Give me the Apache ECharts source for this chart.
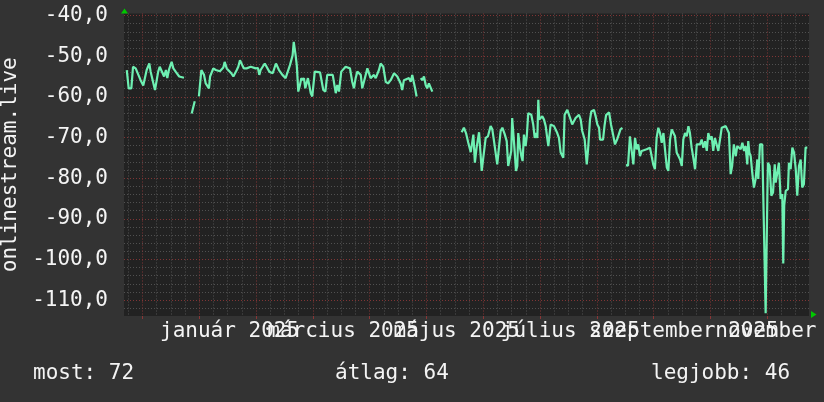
<!DOCTYPE html>
<html><head><meta charset="utf-8">
<script src="https://cdn.jsdelivr.net/npm/echarts@6/dist/echarts.min.js"></script>
<style>html,body{margin:0;padding:0;background:#333333;}#c{width:824px;height:402px;}</style>
</head><body><div id="c"></div>
<script>
// ---- data (x = day offset from first major grid line, y = signal value) ----
const seriesName = 'onlinestream.live';
const monthLabels = ['január 2025', 'március 2025', 'május 2025', 'július 2025', 'szeptember 2025', 'november 2025'];
const labelDays = [46, 106, 166, 226, 286, 346];
const yTickValues = [-110, -100, -90, -80, -70, -60, -50, -40];
const legendTexts = ['most: 72', 'átlag: 64', 'legjobb: 46'];

const part1 = [
  [-8.3,-53.4],[-7.3,-57.9],[-5.9,-57.9],[-5.0,-52.6],[-3.6,-53],[-2.7,-52.8],[-1.0,-55.9],[0.4,-57.2],[1.2,-57.1],
  [2.2,-53.4],[2.9,-52.6],[3.6,-51.8],[4.3,-53.8],[5.2,-53.4],[6.6,-58.3],[7.5,-58.3],[8.3,-53.8],[9.1,-52.6],
  [10.1,-53],[11.4,-55],[12.4,-53.4],[13.1,-55.4],[14.0,-53.3],[15.4,-51.4],[16.3,-53],[17.5,-53.8],[18.4,-53.8],
  [19.4,-55],[21.9,-55.3],[23,null],
  [26.0,-64.1],[27.6,-61.1],[28.5,null],
  [29.8,-59.9],[31.1,-53.4],[32.0,-53],[32.5,-54.6],[33.4,-56.7],[35.1,-57.9],[35.7,-55],[37.4,-53],[38.7,-53.4],
  [39.5,-53],[40.9,-53.7],[42.7,-52.8],[43.4,-51.4],[44.5,-53],[46.9,-54.2],[48.0,-55],[49.8,-53.4],[50.6,-52.6],
  [51.5,-51],[52.7,-52.2],[53.6,-53],[55.0,-53],[57.2,-52.6],[59.8,-53],[61.0,-52.9],[61.7,-54.6],[62.4,-53.4],
  [64.6,-51.8],[65.6,-52],[67.0,-53.8],[67.7,-53.4],[68.8,-54.2],[70.5,-51.8],[72.1,-53.4],[73.9,-54.6],[75.6,-55.4],
  [76.5,-55],[77.9,-52.2],[78.6,-51.8],[79.3,-49.8],[79.9,-46.5],[80.4,-46.5],[80.9,-49.8],[81.5,-52.2],[82.3,-58.7],
  [83.2,-57.1],[83.9,-55.4],[84.6,-55.9],[85.3,-55.4],[86.0,-57.9],[87.4,-55.4],[88.9,-59.1],[89.7,-59.9],[91.0,-53.8],
  [93.8,-54],[95.5,-58.3],[96.6,-58.7],[97.6,-54.6],[100.5,-54.6],[102.1,-59.1],[102.9,-57.1],[103.8,-58.7],[105.0,-53.8],
  [107.3,-52.6],[108.2,-52.2],[109.6,-53],[110.8,-56.3],[111.7,-57.9],[112.6,-55.4],[113.5,-53.8],[114.4,-53.4],
  [115.3,-54.6],[116.1,-57.9],[117.0,-58.3],[118.8,-53],[119.7,-53.4],[120.5,-55.4],[122.3,-54.6],[123.2,-55.4],
  [124.9,-53.4],[125.8,-51.8],[127.2,-52.6],[128.5,-56.3],[129.7,-56.7],[131.1,-55.9],[132.9,-54.2],[134.6,-55],
  [135.5,-55.4],[136.4,-56.7],[137.2,-58.3],[138.1,-55.9],[139.6,-55.6],[140.8,-55.4],[141.7,-56.3],[142.5,-54.6],
  [143.4,-54.2],[144.0,-57.9],[144.8,-59.9],[145.8,null],
  [147.0,-55.4],[147.8,-55.9],[148.7,-55],[149.6,-57.1],[150.4,-57.9],[151.3,-56.7],[152.2,-57.1],[153.1,-58.7],[154,null]
];
const part2 = [
  [168.6,-68.7],[169.8,-67.6],[170.9,-68.9],[172.1,-71.3],[173.4,-73.6],[174.1,-73.7],[174.8,-69.3],[175.6,-76.2],
  [176.5,-72.5],[177.8,-68.7],[178.3,-68.5],[179.2,-78.2],[180.0,-77.8],[181.3,-70.1],[182.5,-69.7],[183.9,-67.2],
  [184.8,-68],[185.7,-70.9],[186.6,-71.3],[187.4,-76.6],[188.3,-77],[189.2,-68.4],[190.1,-67.6],[191.3,-69.1],
  [192.4,-70.9],[193.2,-77],[194.1,-77.4],[194.8,-73.3],[195.3,-65.2],[195.9,-65.2],[196.6,-73.3],[197.3,-78.2],
  [198.0,-77],[198.5,-68.9],[199.4,-72.5],[200.1,-74.5],[200.8,-75.8],[201.5,-69.3],[202.4,-72.1],[203.0,-69.7],
  [203.8,-64],[204.7,-63.6],[205.4,-64.4],[206.4,-66.8],[207.2,-70.1],[207.9,-68.9],[208.6,-70.1],[209.1,-60.7],
  [209.6,-65.6],[210.4,-66],[211.2,-64.8],[212.1,-65.6],[213.0,-67.2],[213.8,-70.1],[214.4,-72.1],[215.1,-72.5],
  [215.6,-66.8],[217.4,-67.2],[219.1,-68.9],[220.0,-70.1],[220.9,-73.7],[222.3,-75],[223.0,-64.4],[223.7,-64],
  [224.4,-63.2],[225.3,-62.8],[226.2,-65.6],[227.0,-66.8],[227.9,-66.8],[228.8,-65.2],[230.6,-64.4],[231.5,-65.6],
  [232.3,-68.4],[233.6,-70.5],[234.7,-76.6],[235.4,-72.9],[236.4,-65.6],[237.1,-63.6],[238.5,-63.2],[239.4,-64.8],
  [240.3,-66.8],[241.2,-67.6],[241.7,-70.5],[242.4,-70.9],[243.3,-70.5],[244.1,-67],[244.9,-64.5],[246.5,-63.8],
  [247.5,-66.8],[248.6,-69.3],[249.6,-71.7],[250.7,-70.5],[251.7,-70.1],[252.5,-68],[253.5,-67.6],[255,null]
];
const part3 = [
  [255.4,-76.8],[256.5,-76.9],[257.5,-69.7],[258.4,-70.1],[259.3,-76.6],[260.2,-70.1],[261.1,-72.9],[261.9,-71.7],
  [262.8,-74.6],[263.7,-73.3],[264.6,-72.9],[266.3,-72.9],[268.1,-72.5],[269.0,-72.9],[269.8,-76.6],[270.7,-77.8],
  [271.6,-70.1],[272.5,-67.6],[273.4,-68.9],[274.3,-71.3],[275.2,-68.9],[276.1,-73.3],[277.0,-77.4],[277.8,-78.2],
  [278.7,-70.5],[279.6,-68],[280.5,-67.6],[281.3,-69.7],[282.2,-73.7],[283.1,-73.3],[284.0,-75.4],[284.9,-77],
  [285.7,-70.5],[286.6,-68.9],[287.5,-69.7],[288.4,-67.2],[289.2,-68.9],[290.1,-72.5],[291.0,-75],[291.9,-77.8],
  [292.8,-71.7],[293.6,-71.7],[294.5,-71.7],[295.4,-70.5],[296.3,-72.5],[297.2,-70.9],[298.1,-73.3],[298.9,-68.9],
  [299.8,-70.5],[300.7,-69.7],[301.5,-73.3],[302.4,-70.1],[303.3,-70.1],[304.2,-73.3],[305.1,-73.7],[306.0,-67.6],
  [306.8,-67.2],[308.1,-67.2],[308.9,-67.2],[309.8,-68.9],[310.7,-79],[311.5,-77],[312.4,-71.7],[313.4,-74.6],
  [314.2,-72.1],[315.1,-71.7],[316.0,-72.9],[316.9,-71.3],[317.8,-73.3],[318.6,-72.1],[319.5,-76.6],[320.0,-70.9],
  [320.6,-73.7],[321.3,-74.6],[322.1,-78.6],[323.0,-82.3],[323.9,-80.2],[324.8,-75.4],[325.3,-80.2],[326.2,-71.7],
  [327.4,-71.7],[328.3,-72.1],[329.2,-113.2],[330.1,-84.3],[330.4,-76.2],[331.3,-77],[332.2,-84.3],[333.1,-83.5],
  [334.0,-76.6],[334.5,-81.1],[335.4,-78.6],[336.2,-76.2],[337.1,-85.1],[338.0,-83.9],[338.5,-101],[339.0,-86.7],
  [339.8,-83.1],[341.0,-82.7],[341.5,-76.2],[342.4,-77.8],[343.3,-72.5],[344.2,-73.7],[345.1,-77.8],[345.9,-84.3],
  [346.8,-77],[347.7,-75.4],[348.5,-82.3],[349.4,-81.5],[350.3,-72.5],[351.2,-72.5]
];
const signal = part1.concat(part2, part3);

// ---- grid positions ----
const X_MIN = -9.77, X_MAX = 352.1, Y_MIN = -113.9, Y_MAX = -39.5;
const majorX = [], minorX = [], majorY = [], minorY = [];
for (let d = -7.5; d <= X_MAX; d += 7.5) { if (Math.abs(d % 30) < 1e-6) majorX.push(d); else minorX.push(d); }
for (let v = -112; v <= -40; v += 2) { if (v % 10 === 0) majorY.push(v); else minorY.push(v); }
// labels split over two axes so that overlapping ones are all drawn
const labelsA = labelDays.filter((d, i) => i % 2 === 0);
const labelsB = labelDays.filter((d, i) => i % 2 === 1);

const FONT = "'DejaVu Sans Mono', monospace";
const TXT = '#f4f4f4';
const monthFmt = v => { const i = labelDays.indexOf(v); return i >= 0 ? monthLabels[i] : ''; };
const labelAxis = (vals) => ({
  type: 'value', position: 'bottom', offset: 0, min: X_MIN, max: X_MAX,
  axisLine: {show: false}, axisTick: {show: false}, splitLine: {show: false},
  axisLabel: {show: true, customValues: vals, margin: 5, color: TXT, fontFamily: FONT, fontSize: 21,
    hideOverlap: false, showMinLabel: true, showMaxLabel: true, formatter: monthFmt}
});
const chart = echarts.init(document.getElementById('c'), null, {renderer: 'canvas'});
chart.setOption({
  animation: false,
  backgroundColor: '#333333',
  grid: {left: 124, right: 15, top: 13.5, bottom: 86, show: true, backgroundColor: '#222222', borderWidth: 0,
         containLabel: false, outerBoundsMode: 'none'},
  xAxis: [
    {type: 'value', position: 'bottom', offset: 0, min: X_MIN, max: X_MAX, axisLine: {show: false}, axisLabel: {show: false},
     axisTick: {show: false, customValues: minorX},
     splitLine: {show: true, lineStyle: {color: '#505050', width: 1, type: [1, 2]}}},
    {type: 'value', position: 'bottom', offset: 0, min: X_MIN, max: X_MAX, axisLine: {show: false},
     axisTick: {show: true, customValues: majorX, length: 3, lineStyle: {color: '#8a3636'}},
     axisLabel: {show: false},
     splitLine: {show: true, lineStyle: {color: '#803535', width: 1, type: [1, 2]}}},
    labelAxis(labelsA),
    labelAxis(labelsB)
  ],
  yAxis: [
    {type: 'value', position: 'left', offset: 0, min: Y_MIN, max: Y_MAX, axisLine: {show: false}, axisLabel: {show: false},
     axisTick: {show: false, customValues: minorY},
     splitLine: {show: true, lineStyle: {color: '#505050', width: 1, type: [1, 2]}}},
    {type: 'value', position: 'left', offset: 0, min: Y_MIN, max: Y_MAX, axisLine: {show: false},
     name: seriesName, nameLocation: 'middle', nameGap: 97, nameRotate: 90,
     nameTextStyle: {color: TXT, fontFamily: FONT, fontSize: 21},
     axisTick: {show: false, customValues: majorY},
     axisLabel: {show: true, customValues: yTickValues, margin: 16, color: TXT, fontFamily: FONT, fontSize: 21,
       showMinLabel: true, showMaxLabel: true,
       formatter: v => v.toFixed(1).replace('.', ',')},
     splitLine: {show: true, lineStyle: {color: '#803535', width: 1, type: [1, 2]}}}
  ],
  series: [{
    name: seriesName, type: 'line', xAxisIndex: 1, yAxisIndex: 1, data: signal,
    showSymbol: false, connectNulls: false, clip: true,
    lineStyle: {color: '#6ef0b2', width: 2.2}, itemStyle: {color: '#6ef0b2'}
  }],
  graphic: [
    {type: 'polygon', shape: {points: [[124.5, 8.5], [121, 13.5], [128, 13.5]]}, style: {fill: '#00c800'}},
    {type: 'polygon', shape: {points: [[816.5, 314.5], [811, 311], [811, 318]]}, style: {fill: '#00c800'}},
    {type: 'text', left: 33, top: 363, style: {text: legendTexts[0], fill: TXT, font: "21px 'DejaVu Sans Mono', monospace"}},
    {type: 'text', left: 335, top: 363, style: {text: legendTexts[1], fill: TXT, font: "21px 'DejaVu Sans Mono', monospace"}},
    {type: 'text', left: 651, top: 363, style: {text: legendTexts[2], fill: TXT, font: "21px 'DejaVu Sans Mono', monospace"}}
  ]
});
</script></body></html>
